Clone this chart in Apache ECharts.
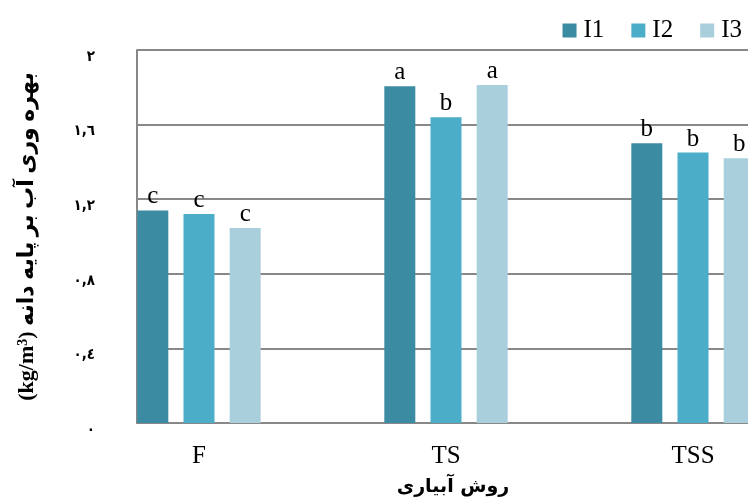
<!DOCTYPE html>
<html>
<head>
<meta charset="utf-8">
<script src="https://cdn.jsdelivr.net/npm/echarts@6/dist/echarts.min.js"></script>
<style>html,body{margin:0;padding:0;background:#fff;}#c{width:748px;height:497px;}</style>
</head>
<body>
<div id="c"></div>
<script>
var categories = ['F', 'TS', 'TSS'];
var seriesNames = ['I1', 'I2', 'I3'];
var valuesI1 = [1.14, 1.805, 1.50];
var valuesI2 = [1.12, 1.64, 1.45];
var valuesI3 = [1.045, 1.812, 1.42];
var lettersI1 = ['c', 'a', 'b'];
var lettersI2 = ['c', 'b', 'b'];
var lettersI3 = ['c', 'a', 'b'];
var yTickValues = [0, 0.4, 0.8, 1.2, 1.6, 2];
var yTickLabels = ['٠', '٠,٤', '٠,٨', '١,٢', '١,٦', '٢'];
var yAxisTitleUnitStart = '(kg/m';
var yAxisTitleUnitSup = '3';
var yAxisTitleUnitEnd = ')';
var yAxisTitleText = 'بهره وری آب بر پایه دانه';
var xAxisTitle = 'روش آبیاری';

var colors = ['#3B8BA2', '#4BADC7', '#A9CEDC'];
var allValues = [valuesI1, valuesI2, valuesI3];
var allLetters = [lettersI1, lettersI2, lettersI3];
var serif = "'Liberation Serif', 'Times New Roman', serif";
var arabicBold = "'Liberation Serif', 'DejaVu Sans', serif";

var chart = echarts.init(document.getElementById('c'), null, {renderer: 'canvas'});

var series = seriesNames.map(function (name, i) {
  var letters = allLetters[i];
  return {
    name: name,
    type: 'bar',
    xAxisIndex: 0,
    yAxisIndex: 0,
    barWidth: 31,
    barGap: '49%',
    data: allValues[i],
    itemStyle: {color: colors[i]},
    label: {
      show: true,
      position: 'top',
      distance: 1,
      fontFamily: serif,
      fontSize: 25,
      color: '#000',
      formatter: function (p) { return letters[p.dataIndex]; }
    }
  };
});

chart.setOption({
  animation: false,
  color: colors,
  legend: {
    data: seriesNames,
    right: 1,
    top: 13,
    icon: 'rect',
    itemWidth: 14,
    itemHeight: 14,
    itemGap: 27,
    textStyle: {fontFamily: serif, fontSize: 25, color: '#000', padding: [0, 0, 0, 2]}
  },
  grid: [
    {left: 75.5, width: 741, top: 50, height: 373, containLabel: false, outerBoundsMode: 'none'},
    {left: 137, right: 0, top: 50, height: 373, containLabel: false, outerBoundsMode: 'none'}
  ],
  xAxis: [
    {
      type: 'category',
      gridIndex: 0,
      data: categories,
      axisLine: {show: false},
      axisTick: {show: false},
      splitLine: {show: false},
      axisLabel: {fontFamily: serif, fontSize: 25, color: '#000', margin: 21},
      name: xAxisTitle,
      nameLocation: 'middle',
      nameGap: 55,
      nameTextStyle: {fontFamily: "'DejaVu Sans', sans-serif", fontWeight: 'bold', fontSize: 19, color: '#000', padding: [0, 0, 0, 14]}
    },
    {
      type: 'value',
      gridIndex: 1,
      min: 0,
      max: 1,
      axisLine: {show: true, lineStyle: {color: '#888', width: 2}},
      axisTick: {show: false},
      axisLabel: {show: false},
      splitLine: {show: false}
    }
  ],
  yAxis: [
    {
      type: 'value',
      gridIndex: 0,
      min: 0,
      max: 2,
      interval: 0.4,
      show: false
    },
    {
      type: 'value',
      gridIndex: 1,
      min: 0,
      max: 2,
      interval: 0.4,
      axisLine: {show: true, lineStyle: {color: '#888', width: 2}},
      axisTick: {show: false},
      splitLine: {show: true, lineStyle: {color: '#888', width: 2}},
      axisLabel: {
        margin: 42,
        fontFamily: "'DejaVu Sans Condensed', 'DejaVu Sans', sans-serif",
        fontWeight: 'bold',
        fontSize: 15,
        color: '#000',
        verticalAlign: 'top',
        lineHeight: 14,
        formatter: function (v) {
          for (var k = 0; k < yTickValues.length; k++) {
            if (Math.abs(yTickValues[k] - v) < 1e-6) return yTickLabels[k];
          }
          return '';
        }
      },
      name: yAxisTitleUnitStart + '{sup|' + yAxisTitleUnitSup + '}' + yAxisTitleUnitEnd + ' ' + yAxisTitleText,
      nameLocation: 'middle',
      nameGap: 99,
      nameRotate: 90,
      nameTextStyle: {
        fontFamily: arabicBold, fontWeight: 'bold', fontSize: 22, color: '#000',
        rich: {
          sup: {fontFamily: serif, fontWeight: 'bold', fontSize: 14, verticalAlign: 'top', color: '#000'}
        }
      }
    }
  ],
  series: series
});
</script>
</body>
</html>
